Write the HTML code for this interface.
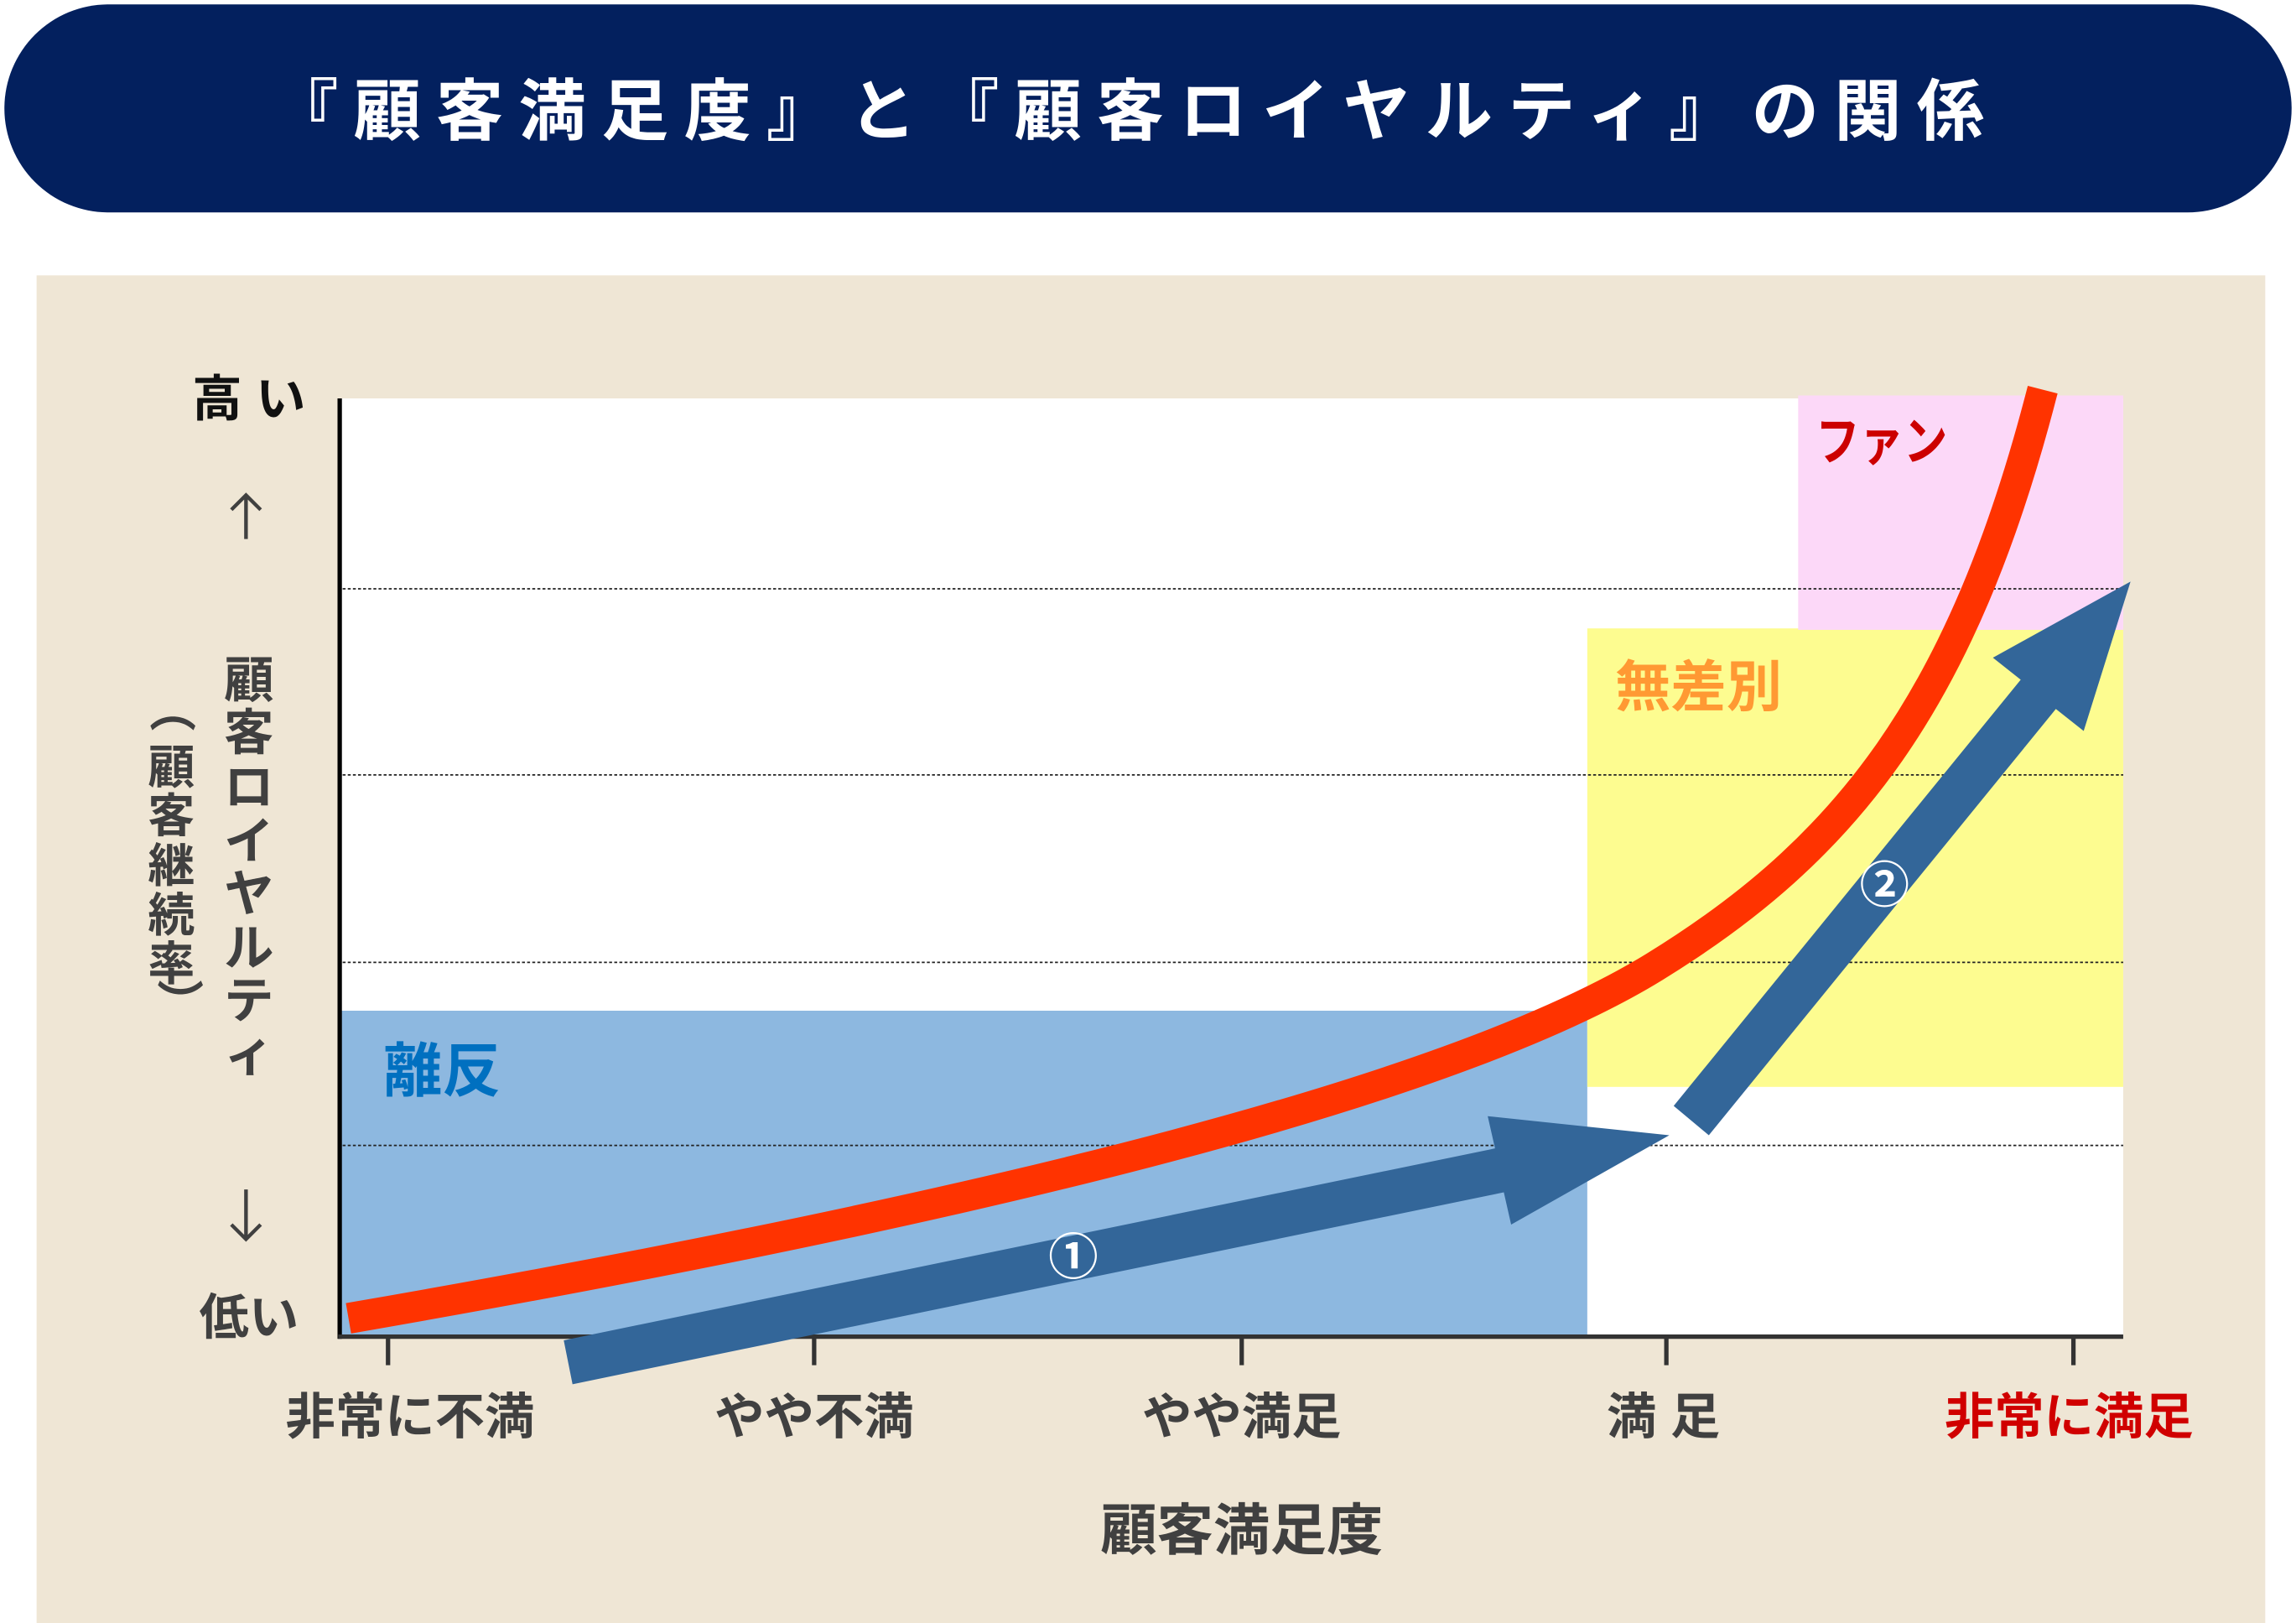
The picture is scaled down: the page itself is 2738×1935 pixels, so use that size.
<!DOCTYPE html>
<html><head><meta charset="utf-8"><style>
html,body{margin:0;padding:0;background:#fff}
svg{display:block}
text{font-family:"Liberation Sans","Noto Sans CJK JP",sans-serif;font-weight:bold}
</style></head><body>
<svg width="2738" height="1935" viewBox="0 0 1568 1108" preserveAspectRatio="none" xmlns="http://www.w3.org/2000/svg">
<rect x="0" y="0" width="1568" height="1108" fill="#fff"/>
<rect x="3" y="3" width="1562" height="142" rx="71" fill="#03205e"/>
<text x="185" y="92" font-size="46" fill="#fff" textLength="1170" lengthAdjust="spacing">『顧客満足度』と『顧客ロイヤルティ』の関係</text>
<rect x="25" y="188" width="1522" height="920" fill="#efe6d5"/>
<rect x="232" y="272" width="1218" height="640" fill="#fff"/>
<rect x="232" y="690" width="852" height="222" fill="#8db8e0"/>
<rect x="1084" y="429" width="366" height="313" fill="#fdfc90"/>
<rect x="1228" y="270" width="222" height="160" fill="#fcd8f8"/>
<g stroke="#222" stroke-width="1" stroke-dasharray="2,1.5">
<line x1="234" y1="402" x2="1450" y2="402"/>
<line x1="234" y1="529" x2="1450" y2="529"/>
<line x1="234" y1="657" x2="1450" y2="657"/>
<line x1="234" y1="782" x2="1450" y2="782"/>
</g>
<line x1="232" y1="272" x2="232" y2="914" stroke="#000" stroke-width="3"/>
<line x1="231" y1="912.5" x2="1450" y2="912.5" stroke="#333" stroke-width="3"/>
<g stroke="#333" stroke-width="3">
<line x1="265" y1="912" x2="265" y2="932"/><line x1="556" y1="912" x2="556" y2="932"/>
<line x1="848" y1="912" x2="848" y2="932"/><line x1="1138" y1="912" x2="1138" y2="932"/>
<line x1="1416" y1="912" x2="1416" y2="932"/>
</g>
<path d="M238,900 C700,820 1000,740 1130,660 C1260,580 1340,480 1395,266" fill="none" stroke="#ff3300" stroke-width="21"/>
<polygon points="391,945 1027,814 1032,836 1140,775 1016,762 1021,784 385,915" fill="#336699"/>
<polygon points="1167,775 1404,484 1423,499 1455,397 1361,449 1380,464 1143,755" fill="#336699"/>
<text x="733" y="870" font-size="34" fill="#fff" text-anchor="middle" font-weight="normal">①</text>
<text x="1287" y="616" font-size="34" fill="#fff" text-anchor="middle" font-weight="normal">②</text>
<text x="262" y="745" font-size="40" fill="#0070c0">離反</text>
<text x="1103" y="482" font-size="38" fill="#ff9933">無差別</text>
<text x="1240" y="314" font-size="36" fill="#cc0000" textLength="90" lengthAdjust="spacingAndGlyphs">ファン</text>
<g font-size="34" fill="#404040" text-anchor="middle">
<text x="280" y="979">非常に不満</text>
<text x="556" y="979">やや不満</text>
<text x="848" y="979">やや満足</text>
<text x="1136" y="979">満 足</text>
<text x="1413" y="979" fill="#d00000">非常に満足</text>
<text x="848" y="1058" font-size="38" textLength="193" lengthAdjust="spacingAndGlyphs">顧客満足度</text>
</g>
<text x="170" y="284" font-size="34" fill="#111" text-anchor="middle">高 い</text>
<text x="170" y="911" font-size="34" fill="#404040" text-anchor="middle">低い</text>
<g stroke="#404040" stroke-width="2.5" fill="none">
<path d="M168,368 V338 M158,348 L168,338 L178,348"/>
<path d="M168,812 V846 M158,836 L168,846 L178,836"/>
</g>
<g font-size="34" fill="#404040" text-anchor="middle">
<text x="170" y="476">顧</text><text x="170" y="512">客</text><text x="170" y="549">ロ</text>
<text x="170" y="586">イ</text><text x="170" y="622">ヤ</text><text x="170" y="659">ル</text>
<text x="170" y="695">テ</text><text x="170" y="731">ィ</text>
</g>
<g font-size="32" fill="#404040" text-anchor="middle">
<text x="117" y="495" transform="rotate(90 117 484)">（</text>
<text x="117" y="535">顧</text><text x="117" y="568">客</text><text x="117" y="602">継</text>
<text x="117" y="636">続</text><text x="117" y="669">率</text>
<text x="117" y="690" transform="rotate(90 117 684)">）</text>
</g>
</svg>
</body></html>
